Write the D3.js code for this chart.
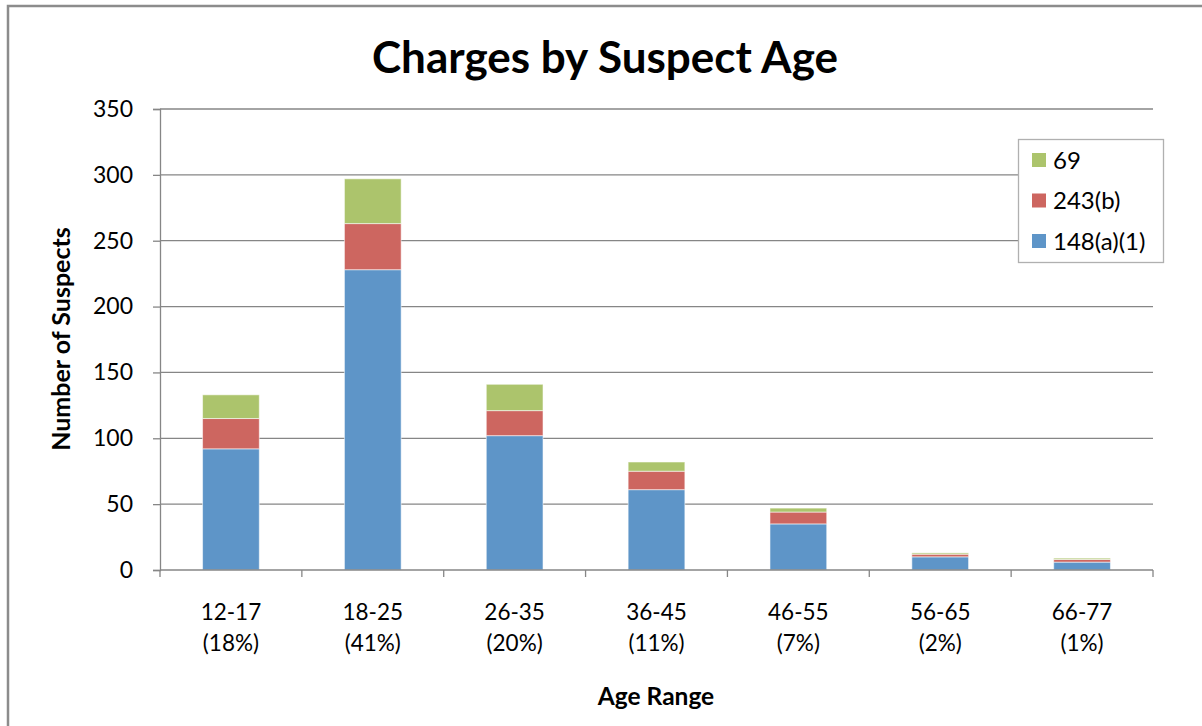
<!DOCTYPE html>
<html>
<head>
<meta charset="utf-8">
<script src="https://cdn.jsdelivr.net/npm/d3@7"></script>
<style>
  html, body { margin: 0; padding: 0; background: #fff; }
  svg { display: block; }
  text { font-family: Lato, "Open Sans", sans-serif; fill: #000; }
</style>
</head>
<body>
<script>
const categories = ["12-17", "18-25", "26-35", "36-45", "46-55", "56-65", "66-77"];
const percentLabels = ["(18%)", "(41%)", "(20%)", "(11%)", "(7%)", "(2%)", "(1%)"];
const seriesNames = ["148(a)(1)", "243(b)", "69"];
const s148a1 = [92, 228, 102, 61, 35, 10, 6];
const s243b = [23, 35, 19, 14, 9, 2, 2];
const s69 = [18, 34, 20, 7, 3, 1, 1];
const yTicks = [0, 50, 100, 150, 200, 250, 300, 350];
const colors = ["#5E95C8", "#CD6660", "#ACC46C"];

const W = 1202, H = 726;
const plot = { left: 160, right: 1153, top: 109, bottom: 570 };

const svg = d3.select("body").append("svg").attr("width", W).attr("height", H);

// outer chart border
svg.append("path")
  .attr("d", `M8,${H + 5} L8,6 L${W + 5},6`)
  .attr("fill", "none").attr("stroke", "#8c8c8c").attr("stroke-width", 2.5);

const x = d3.scaleBand().domain(categories).range([plot.left, plot.right])
  .paddingInner(0.6).paddingOuter(0.3);
const y = d3.scaleLinear().domain([0, 350]).range([plot.bottom, plot.top]);

// gridlines
svg.append("g").selectAll("line").data(yTicks.filter(d => d > 0)).join("line")
  .attr("x1", plot.left).attr("x2", plot.right)
  .attr("y1", d => y(d)).attr("y2", d => y(d))
  .attr("stroke", "#868686").attr("stroke-width", 1.3);

// stacked data
const rows = categories.map((c, i) => ({ cat: c, "148(a)(1)": s148a1[i], "243(b)": s243b[i], "69": s69[i] }));
const stack = d3.stack().keys(seriesNames)(rows);

svg.append("g").selectAll("g").data(stack).join("g")
  .attr("fill", (d, i) => colors[i])
  .selectAll("rect").data(d => d).join("rect")
  .attr("x", d => x(d.data.cat))
  .attr("width", x.bandwidth())
  .attr("y", d => y(d[1]))
  .attr("height", d => y(d[0]) - y(d[1]))
  .attr("stroke", "rgba(255,255,255,0.55)").attr("stroke-width", 1);

// y axis
const yAxis = d3.axisLeft(y).tickValues(yTicks).tickSize(7).tickPadding(20);
const gy = svg.append("g").attr("transform", `translate(${plot.left},0)`).call(yAxis);
gy.select(".domain").attr("stroke", "#868686").attr("stroke-width", 1.3);
gy.selectAll(".tick line").attr("stroke", "#868686").attr("stroke-width", 1.3);
gy.selectAll(".tick text").attr("font-size", 23).attr("font-family", "Lato, sans-serif").attr("fill", "#000");

// x axis with ticks at category boundaries
const step = x.step();
const boundaries = d3.range(categories.length + 1).map(i => plot.left + i * step);
svg.append("line").attr("x1", plot.left).attr("x2", plot.right)
  .attr("y1", plot.bottom).attr("y2", plot.bottom)
  .attr("stroke", "#868686").attr("stroke-width", 1.3);
svg.append("g").selectAll("line").data(boundaries).join("line")
  .attr("x1", d => d).attr("x2", d => d)
  .attr("y1", plot.bottom).attr("y2", plot.bottom + 7)
  .attr("stroke", "#868686").attr("stroke-width", 1.3);

const xl = svg.append("g").selectAll("text").data(categories).join("text")
  .attr("x", d => x(d) + x.bandwidth() / 2)
  .attr("text-anchor", "middle").attr("font-size", 22.5);
xl.append("tspan").attr("x", d => x(d) + x.bandwidth() / 2).attr("y", 620).text(d => d);
xl.append("tspan").attr("x", d => x(d) + x.bandwidth() / 2).attr("y", 651).text((d, i) => percentLabels[i]);

// title
svg.append("text").attr("x", 605).attr("y", 73).attr("text-anchor", "middle")
  .attr("font-size", 44).attr("font-weight", "bold").text("Charges by Suspect Age");

// axis titles
svg.append("text").attr("transform", `translate(70,339) rotate(-90)`)
  .attr("text-anchor", "middle").attr("font-size", 25).attr("font-weight", "bold")
  .text("Number of Suspects");
svg.append("text").attr("x", 656).attr("y", 705).attr("text-anchor", "middle")
  .attr("font-size", 24.5).attr("font-weight", "bold").text("Age Range");

// legend
const lg = svg.append("g");
lg.append("rect").attr("x", 1018.5).attr("y", 139.5).attr("width", 145).attr("height", 123)
  .attr("fill", "#fff").attr("stroke", "#b0b0b0").attr("stroke-width", 1.3);
const legendOrder = [2, 1, 0];
const li = lg.selectAll("g.item").data(legendOrder).join("g").attr("class", "item")
  .attr("transform", (d, i) => `translate(1032,${160 + i * 40.5})`);
li.append("rect").attr("x", 0).attr("y", -7).attr("width", 14).attr("height", 14)
  .attr("fill", d => colors[d]);
li.append("text").attr("x", 21).attr("y", 8.5).attr("font-size", 24).text(d => seriesNames[d]);
</script>
</body>
</html>
